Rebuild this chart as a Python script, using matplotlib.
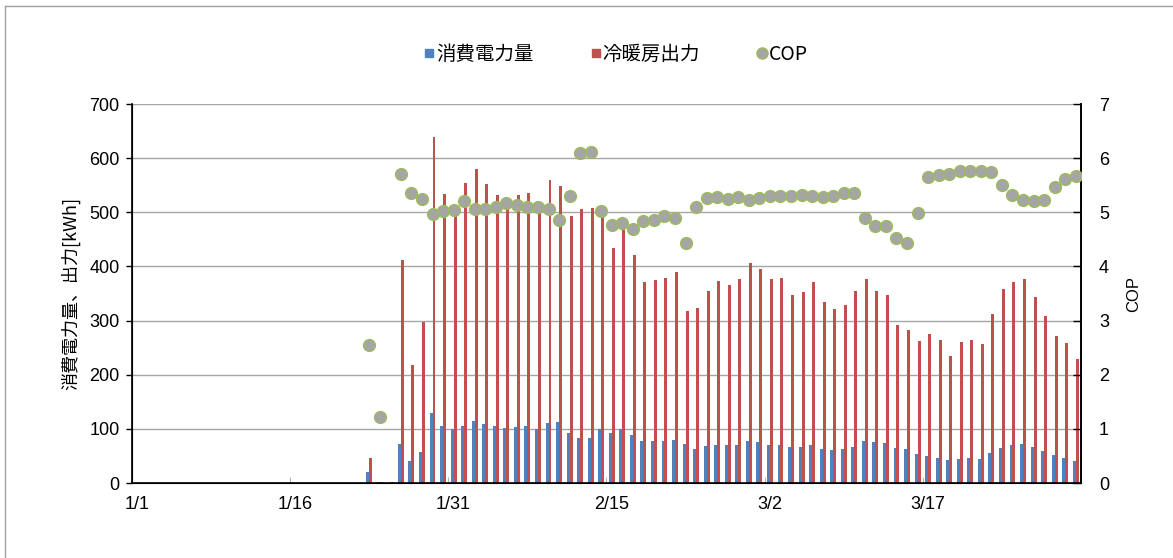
import matplotlib
matplotlib.use('Agg')
import matplotlib.pyplot as plt
from matplotlib.lines import Line2D
import numpy as np
import pandas as pd

# daily values, 1/1 .. 3/31 (90 days); operation starts on 1/23
dates = pd.date_range('2015-01-01', '2015-03-31', freq='D')
tick_days = [0, 15, 30, 45, 60, 75]

power = [0] * 22 + [
    20, 1.5, 0, 72, 41, 57, 129, 106, 99, 106,
    114, 109, 105, 101, 103, 105, 100, 111, 113, 93,
    83, 83, 100, 92, 99, 89, 78, 78, 78, 80,
    72, 63, 68, 71, 70, 71, 78, 75, 71, 71,
    66, 67, 70, 63, 61, 62, 67, 77, 75, 73,
    65, 63, 53, 49, 46, 42, 45, 46, 44, 55,
    65, 70, 72, 67, 60, 51, 47, 41]

output = [0] * 22 + [
    47, 1.5, 1, 411, 218, 297, 639, 533, 510, 555,
    580, 552, 532, 510, 532, 535, 510, 560, 548, 493,
    506, 508, 500, 434, 473, 421, 372, 375, 379, 389,
    318, 323, 355, 373, 366, 376, 406, 395, 377, 378,
    347, 352, 372, 334, 321, 328, 354, 376, 354, 347,
    291, 282, 262, 275, 264, 235, 260, 264, 256, 313,
    359, 371, 376, 344, 309, 272, 259, 229]

cop = [np.nan] * 22 + [
    2.55, 1.22, np.nan, 5.70, 5.36, 5.25, 4.97, 5.02, 5.04, 5.21,
    5.07, 5.06, 5.10, 5.17, 5.13, 5.10, 5.10, 5.07, 4.86, 5.30,
    6.09, 6.12, 5.02, 4.77, 4.81, 4.70, 4.84, 4.86, 4.94, 4.89,
    4.43, 5.10, 5.26, 5.28, 5.25, 5.28, 5.23, 5.26, 5.30, 5.31,
    5.30, 5.32, 5.30, 5.28, 5.31, 5.36, 5.35, 4.90, 4.74, 4.74,
    4.53, 4.44, 4.98, 5.66, 5.69, 5.71, 5.76, 5.76, 5.76, 5.75,
    5.51, 5.32, 5.23, 5.20, 5.22, 5.46, 5.62, 5.67]

blue = '#4f81bd'
red = '#c0504d'
jp = ['Noto Sans CJK JP', 'DejaVu Sans']
num = ['Liberation Sans', 'DejaVu Sans']

fig = plt.figure(figsize=(11.73, 5.58), dpi=100)
ax = fig.add_axes([0.1125, 0.1344, 0.8091, 0.6792])
x = np.arange(len(dates))
w = 0.28

ax.bar(x - w / 2, power, w, color=blue, zorder=2)
ax.bar(x + w / 2, output, w, color=red, zorder=2)
ax.set_xlim(-0.5, len(dates) - 0.5)
ax.set_ylim(0, 700)
ax.set_yticks(range(0, 701, 100))
ax.grid(axis='y', color='#a6a6a6', linewidth=1, zorder=0)
ax.set_axisbelow(True)

ax.set_xticks(tick_days)
ax.set_xticklabels([f'{dates[i].month}/{dates[i].day}' for i in tick_days],
                   family=['Liberation Sans Narrow', 'Liberation Sans'], fontsize=13)
ax.tick_params(axis='x', length=0, pad=9)
ax.set_xticks([d - 0.5 for d in tick_days[1:]], minor=True)
ax.tick_params(axis='x', which='minor', direction='in', length=4, color='#a6a6a6')
ax.tick_params(axis='y', length=4, width=1, labelsize=13, pad=5)
for lab in ax.get_yticklabels():
    lab.set_family(num)
ax.set_ylabel('消費電力量、出力[kWh]', family=jp, fontsize=13, labelpad=6)

ax.spines['top'].set_visible(False)
for s in ['left', 'bottom', 'right']:
    ax.spines[s].set_color('black')
    ax.spines[s].set_linewidth(1.2)

ax2 = ax.twinx()
ax2.plot(x, cop, linestyle='none', marker='o', markersize=8.5,
         markerfacecolor='#a5a5a5', markeredgecolor='#9bbb59', markeredgewidth=1, zorder=3)
ax2.set_ylim(0, 7)
ax2.set_yticks(range(0, 8))
ax2.tick_params(axis='y', direction='in', length=6, width=1, labelsize=13, pad=13)
for lab in ax2.get_yticklabels():
    lab.set_family(num)
ax2.set_ylabel('COP', family=num, fontsize=12, labelpad=12)
ax2.spines['top'].set_visible(False)
ax2.spines['right'].set_linewidth(1.2)

handles = [
    Line2D([], [], linestyle='none', marker='s', markersize=6, color=blue),
    Line2D([], [], linestyle='none', marker='s', markersize=6, color=red),
    Line2D([], [], linestyle='none', marker='o', markersize=8,
           markerfacecolor='#a5a5a5', markeredgecolor='#9bbb59'),
]
fig.legend(handles, ['消費電力量', '冷暖房出力', 'COP'], loc='center',
           bbox_to_anchor=(0.525, 0.902), ncol=3, frameon=False,
           prop={'family': jp, 'size': 14}, handletextpad=0.05,
           columnspacing=2.9, handlelength=0.6)

# chart frame (only top/left edges fall inside the picture)
fig.add_artist(Line2D([5 / 1173, 5 / 1173], [0, 1 - 6 / 558], color='#a0a0a0', lw=1))
fig.add_artist(Line2D([5 / 1173, 1], [1 - 6 / 558, 1 - 6 / 558], color='#a0a0a0', lw=1))

fig.savefig('out.png', dpi=100)
